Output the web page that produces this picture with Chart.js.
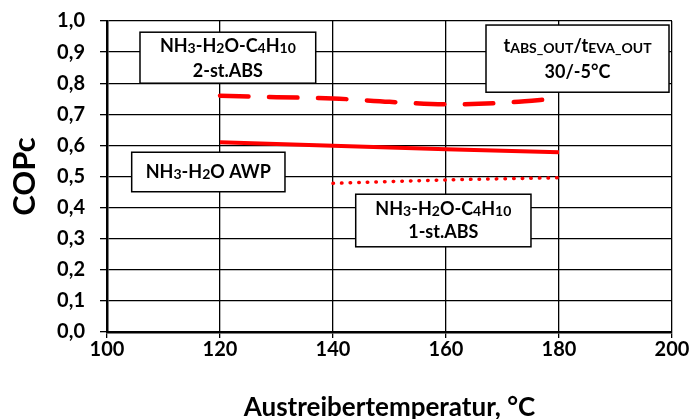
<!DOCTYPE html>
<html><head><meta charset="utf-8">
<script src="https://cdn.jsdelivr.net/npm/chart.js@4/dist/chart.umd.min.js"></script>
<style>html,body{margin:0;padding:0;background:#fff}#wrap{width:692px;height:419px;position:relative}</style>
</head><body><div id="wrap"><canvas id="c" width="692" height="419"></canvas></div>
<script>
// ---- data ----
const xTicks = [100, 120, 140, 160, 180, 200];
const yTickLabels = ['0,0','0,1','0,2','0,3','0,4','0,5','0,6','0,7','0,8','0,9','1,0'];

const tempTwoStage = [120, 130, 140, 150, 160, 170, 180];
const copTwoStage  = [0.760, 0.755, 0.751, 0.740, 0.732, 0.737, 0.751];

const tempAWP = [120, 140, 160, 180];
const copAWP  = [0.610, 0.599, 0.588, 0.578];

const tempOneStage = [140, 160, 180];
const copOneStage  = [0.478, 0.489, 0.496];

// label texts (runs: [text, isSubscript])
const textTwoStage = [[['NH',0],['3',1],['-H',0],['2',1],['O-C',0],['4',1],['H',0],['10',1]], [['2-st.ABS',0]]];
const textOneStage = [[['NH',0],['3',1],['-H',0],['2',1],['O-C',0],['4',1],['H',0],['10',1]], [['1-st.ABS',0]]];
const textAWP      = [[['NH',0],['3',1],['-H',0],['2',1],['O AWP',0]]];
const textCond     = [[['t',0],['ABS_OUT',1],['/t',0],['EVA_OUT',1]], [['30/-5°C',0]]];

// box placement (data units) and styling
const boxes = [
  {lines: textTwoStage, x0: 105.84, x1: 136.94, y0: 0.800, y1: 0.964, lh: 25, size: 18, sub: 0.75},
  {lines: textCond,     x0: 167.08, x1: 199.47, y0: 0.771, y1: 0.987, lh: 26, size: 18, sub: 0.8},
  {lines: textAWP,      x0: 104.37, x1: 131.50, y0: 0.451, y1: 0.578, lh: 24, size: 18, sub: 0.75},
  {lines: textOneStage, x0: 144.02, x1: 175.04, y0: 0.274, y1: 0.443, lh: 23, size: 18, sub: 0.75}
];

const FONT = 'Lato';
const toXY = (xs, ys) => xs.map((v, i) => ({x: v, y: ys[i]}));

const boxPlugin = {
  id: 'boxes',
  afterDatasetsDraw(chart) {
    const {ctx, scales: {x, y}} = chart;
    boxes.forEach(b => {
      const l = x.getPixelForValue(b.x0), r = x.getPixelForValue(b.x1);
      const t = y.getPixelForValue(b.y1), bt = y.getPixelForValue(b.y0);
      ctx.save();
      ctx.fillStyle = '#fff';
      ctx.fillRect(l, t, r - l, bt - t);
      ctx.strokeStyle = '#000';
      ctx.lineWidth = 1.5;
      ctx.strokeRect(l, t, r - l, bt - t);
      const cy = (t + bt) / 2;
      const n = b.lines.length;
      ctx.fillStyle = '#000';
      ctx.textBaseline = 'alphabetic';
      ctx.textAlign = 'left';
      const fnt = sub => 'bold ' + (sub ? Math.round(b.size * b.sub) : b.size) + 'px ' + FONT;
      b.lines.forEach((runs, i) => {
        const lineC = cy + (i - (n - 1) / 2) * b.lh;
        const baseY = lineC + b.size * 0.36;
        let w = 0;
        runs.forEach(([s, sub]) => { ctx.font = fnt(sub); w += ctx.measureText(s).width; });
        let xx = (l + r) / 2 - w / 2;
        runs.forEach(([s, sub]) => {
          ctx.font = fnt(sub);
          ctx.fillText(s, xx, baseY + (sub ? 1 : 0));
          xx += ctx.measureText(s).width;
        });
      });
      ctx.restore();
    });
  }
};

const chart = new Chart(document.getElementById('c'), {
  type: 'scatter',
  data: {
    datasets: [
      {data: toXY(tempTwoStage, copTwoStage), showLine: true, borderColor: '#ff0000', borderWidth: 4.5,
       borderDash: [28.5, 20.5], borderCapStyle: 'round', pointRadius: 0, tension: 0.4, cubicInterpolationMode: 'monotone'},
      {data: toXY(tempAWP, copAWP), showLine: true, borderColor: '#ff0000', borderWidth: 4,
       pointRadius: 0, tension: 0},
      {data: toXY(tempOneStage, copOneStage), showLine: true, borderColor: '#ff0000', borderWidth: 3.5,
       borderDash: [0.5, 8.1], borderCapStyle: 'round', pointRadius: 0, tension: 0.3}
    ]
  },
  options: {
    responsive: false, animation: false, devicePixelRatio: 1,
    layout: {autoPadding: false, padding: {top: 21, right: 20, left: 0, bottom: 0}},
    plugins: {legend: {display: false}, tooltip: {enabled: false}},
    scales: {
      x: {
        type: 'linear', min: 100, max: 200,
        afterBuildTicks: s => { s.ticks = xTicks.map(v => ({value: v})); },
        grid: {color: '#000', lineWidth: 1.3, tickLength: 6, drawTicks: true},
        border: {color: '#000', width: 2.5},
        ticks: {color: '#000', font: {family: FONT, weight: 'bold', size: 20}, padding: 0, maxRotation: 0,
                callback: v => String(v)},
        title: {display: true, text: 'Austreibertemperatur, °C', color: '#000',
                font: {family: FONT, weight: 'bold', size: 26, lineHeight: 0.9}, padding: {top: 0, bottom: 0}},
        afterFit: s => { s.height = 87; s.paddingLeft = 0; s.paddingRight = 0; }
      },
      y: {
        min: 0, max: 1,
        afterBuildTicks: s => { s.ticks = yTickLabels.map((t, i) => ({value: i / 10})); },
        grid: {color: '#000', lineWidth: 1.3, tickLength: 7, drawTicks: true},
        border: {color: '#000', width: 2.5},
        ticks: {color: '#000', font: {family: FONT, weight: 'bold', size: 20}, padding: 15,
                callback: (v, i) => yTickLabels[i]},
        title: {display: true, text: 'COPc', color: '#000',
                font: {family: FONT, weight: 'bold', size: 31, lineHeight: 1.2}, padding: {top: 6, bottom: 0}},
        afterFit: s => { s.width = 107; s.paddingTop = 0; s.paddingBottom = 0; }
      }
    }
  },
  plugins: [boxPlugin]
});
</script>
</body></html>
